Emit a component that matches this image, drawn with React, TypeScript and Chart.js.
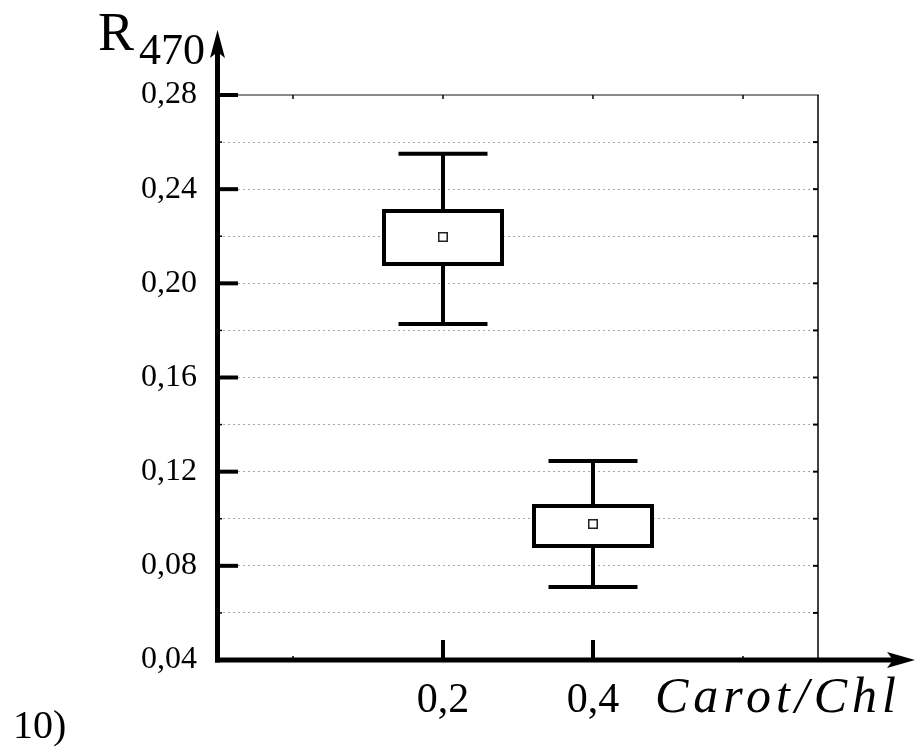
import React, { useEffect, useRef } from "react";
import { Chart, registerables } from "chart.js";

Chart.register(...registerables);

// ---- data ----
const categories = [0.2, 0.4];
const whiskerHigh = [0.255, 0.1245];
const boxTop = [0.2307, 0.1054];
const boxBottom = [0.2082, 0.0884];
const means = [0.2197, 0.0978];
const whiskerLow = [0.1827, 0.071];

const xTickValues = [0, 0.2, 0.4, 0.6];
const xTickLabels = ["", "0,2", "0,4", ""];
const yMin = 0.04;
const yMax = 0.28;
const yStep = 0.02;

const yAxisTitle = "R";
const yAxisSub = "470";
const xAxisTitle = "Carot/Chl";
const panelLabel = "10)";

const SERIF = '"Liberation Serif", "DejaVu Serif", serif';

function yLabel(v: number): string {
  const c = Math.round(v * 100);
  if (c % 4 === 0) return (c / 100).toFixed(2).replace(".", ",");
  return "";
}

const whiskerPlugin = {
  id: "whiskers",
  beforeDatasetsDraw(chart: any) {
    const { ctx, scales } = chart;
    const xs = scales.x;
    const ys = scales.y;
    ctx.save();
    ctx.strokeStyle = "#000";
    ctx.lineWidth = 4;
    ctx.lineCap = "butt";
    categories.forEach((c, i) => {
      const x = xs.getPixelForValue(c);
      const yh = ys.getPixelForValue(whiskerHigh[i]);
      const yt = ys.getPixelForValue(boxTop[i]);
      const yb = ys.getPixelForValue(boxBottom[i]);
      const yl = ys.getPixelForValue(whiskerLow[i]);
      ctx.beginPath();
      ctx.moveTo(x, yt);
      ctx.lineTo(x, yh);
      ctx.moveTo(x, yb);
      ctx.lineTo(x, yl);
      ctx.moveTo(x - 44.5, yh);
      ctx.lineTo(x + 44.5, yh);
      ctx.moveTo(x - 44.5, yl);
      ctx.lineTo(x + 44.5, yl);
      ctx.stroke();
    });
    ctx.restore();
  },
};

const framePlugin = {
  id: "frame",
  afterDraw(chart: any) {
    const { ctx, chartArea, scales } = chart;
    const { left, right, top, bottom } = chartArea;
    const xs = scales.x;
    const ys = scales.y;
    ctx.save();
    // top border
    ctx.strokeStyle = "#8a8a8a";
    ctx.lineWidth = 2;
    ctx.beginPath();
    ctx.moveTo(left, top);
    ctx.lineTo(right + 1, top);
    ctx.stroke();
    // right border
    ctx.strokeStyle = "#000";
    ctx.lineWidth = 1.5;
    ctx.beginPath();
    ctx.moveTo(right, top);
    ctx.lineTo(right, bottom);
    ctx.stroke();

    const ax = left - 0.5;
    const upTip = 30;
    const rightTip = 915;
    // left axis
    ctx.lineWidth = 5;
    ctx.beginPath();
    ctx.moveTo(ax, bottom + 2.5);
    ctx.lineTo(ax, upTip + 20);
    ctx.stroke();
    // bottom axis
    ctx.beginPath();
    ctx.moveTo(ax - 2.5, bottom);
    ctx.lineTo(rightTip - 20, bottom);
    ctx.stroke();
    // arrows
    ctx.fillStyle = "#000";
    ctx.beginPath();
    ctx.moveTo(ax, upTip);
    ctx.lineTo(ax + 7.5, upTip + 28);
    ctx.lineTo(ax, upTip + 22);
    ctx.lineTo(ax - 7.5, upTip + 28);
    ctx.closePath();
    ctx.fill();
    ctx.beginPath();
    ctx.moveTo(rightTip, bottom);
    ctx.lineTo(rightTip - 28, bottom - 8);
    ctx.lineTo(rightTip - 22, bottom);
    ctx.lineTo(rightTip - 28, bottom + 8);
    ctx.closePath();
    ctx.fill();

    // y ticks
    ys.ticks.forEach((t: any) => {
      const y = ys.getPixelForValue(t.value);
      const major = yLabel(t.value) !== "";
      const atEnd = Math.abs(t.value - yMin) < 1e-6;
      if (!atEnd) {
        ctx.beginPath();
        if (major) {
          ctx.lineWidth = 4;
          ctx.moveTo(left, y);
          ctx.lineTo(left + 20, y);
        } else {
          ctx.lineWidth = 1.5;
          ctx.moveTo(left, y);
          ctx.lineTo(left + 4, y);
        }
        ctx.stroke();
      }
      if (!atEnd && Math.abs(t.value - yMax) > 1e-6) {
        ctx.lineWidth = 2;
        ctx.beginPath();
        ctx.moveTo(right, y);
        ctx.lineTo(right - 5, y);
        ctx.stroke();
      }
    });
    // x ticks
    xTickValues.forEach((v, i) => {
      const x = xs.getPixelForValue(v);
      ctx.beginPath();
      if (xTickLabels[i] !== "") {
        ctx.lineWidth = 4;
        ctx.moveTo(x, bottom);
        ctx.lineTo(x, bottom - 20);
      } else {
        ctx.lineWidth = 1.5;
        ctx.moveTo(x, bottom);
        ctx.lineTo(x, bottom - 4);
      }
      ctx.stroke();
      ctx.lineWidth = 1.5;
      ctx.beginPath();
      ctx.moveTo(x, top);
      ctx.lineTo(x, top + 4);
      ctx.stroke();
    });

    // texts
    ctx.fillStyle = "#000";
    ctx.textBaseline = "alphabetic";
    ctx.textAlign = "left";
    ctx.font = `54px ${SERIF}`;
    ctx.fillText(yAxisTitle, 98, 50);
    ctx.font = `44px ${SERIF}`;
    ctx.fillText(yAxisSub, 139, 64);
    ctx.font = `40px ${SERIF}`;
    ctx.fillText(panelLabel, 13, 738);
    ctx.font = `italic 50px ${SERIF}`;
    (ctx as any).letterSpacing = "5px";
    ctx.fillText(xAxisTitle, 655, 712);
    (ctx as any).letterSpacing = "0px";
    ctx.restore();
  },
};

export default function App() {
  const ref = useRef<HTMLCanvasElement>(null);
  useEffect(() => {
    if (!ref.current) return;
    const chart = new Chart(ref.current, {
      type: "bar",
      data: {
        datasets: [
          {
            type: "bar",
            label: "box",
            data: categories.map((c, i) => ({ x: c, y: [boxBottom[i], boxTop[i]] })) as any,
            backgroundColor: "#ffffff",
            borderColor: "#000000",
            borderWidth: 4,
            borderSkipped: false,
            barThickness: 118,
            inflateAmount: 2,
            order: 2,
          } as any,
          {
            type: "line",
            label: "mean",
            data: categories.map((c, i) => ({ x: c, y: means[i] })),
            showLine: false,
            pointStyle: "rect",
            pointRadius: 6,
            pointBackgroundColor: "#ffffff",
            pointBorderColor: "#222222",
            pointBorderWidth: 1.5,
            order: 1,
          } as any,
        ],
      },
      options: {
        responsive: false,
        animation: false,
        devicePixelRatio: 1,
        layout: { padding: { left: 0, right: 104, top: 95, bottom: 0 } },
        plugins: {
          legend: { display: false },
          tooltip: { enabled: false },
        },
        scales: {
          x: {
            type: "linear",
            offset: false,
            min: -0.1,
            max: 0.7,
            afterBuildTicks: (s: any) => {
              s.ticks = xTickValues.map((v) => ({ value: v }));
            },
            afterFit: (s: any) => {
              s.height = 93;
            },
            grid: { display: false, drawTicks: false, offset: false },
            border: { display: false },
            ticks: {
              autoSkip: false,
              maxRotation: 0,
              padding: 16,
              color: "#000",
              font: { family: SERIF, size: 42 },
              callback: (v: any) => {
                const i = xTickValues.findIndex((t) => Math.abs(t - v) < 1e-6);
                return i >= 0 ? xTickLabels[i] : "";
              },
            },
          },
          y: {
            type: "linear",
            min: yMin,
            max: yMax,
            afterFit: (s: any) => {
              s.width = 218;
            },
            grid: {
              drawTicks: false,
              color: (c: any) => {
                const v = c.tick ? c.tick.value : 0;
                if (Math.abs(v - yMin) < 1e-6 || Math.abs(v - yMax) < 1e-6) return "rgba(0,0,0,0)";
                return "#a8a8a8";
              },
              lineWidth: 1,
            },
            border: { display: false, dash: [2, 3] },
            ticks: {
              stepSize: yStep,
              autoSkip: false,
              padding: 21,
              color: "#000",
              font: { family: SERIF, size: 32 },
              callback: (v: any) => yLabel(Number(v)),
            },
          },
        },
      } as any,
      plugins: [whiskerPlugin, framePlugin],
    });
    return () => chart.destroy();
  }, []);
  return (
    <div style={{ position: "fixed", left: 0, top: 0, width: 922, height: 753, background: "#fff" }}>
      <canvas ref={ref} width={922} height={753} style={{ display: "block" }} />
    </div>
  );
}
